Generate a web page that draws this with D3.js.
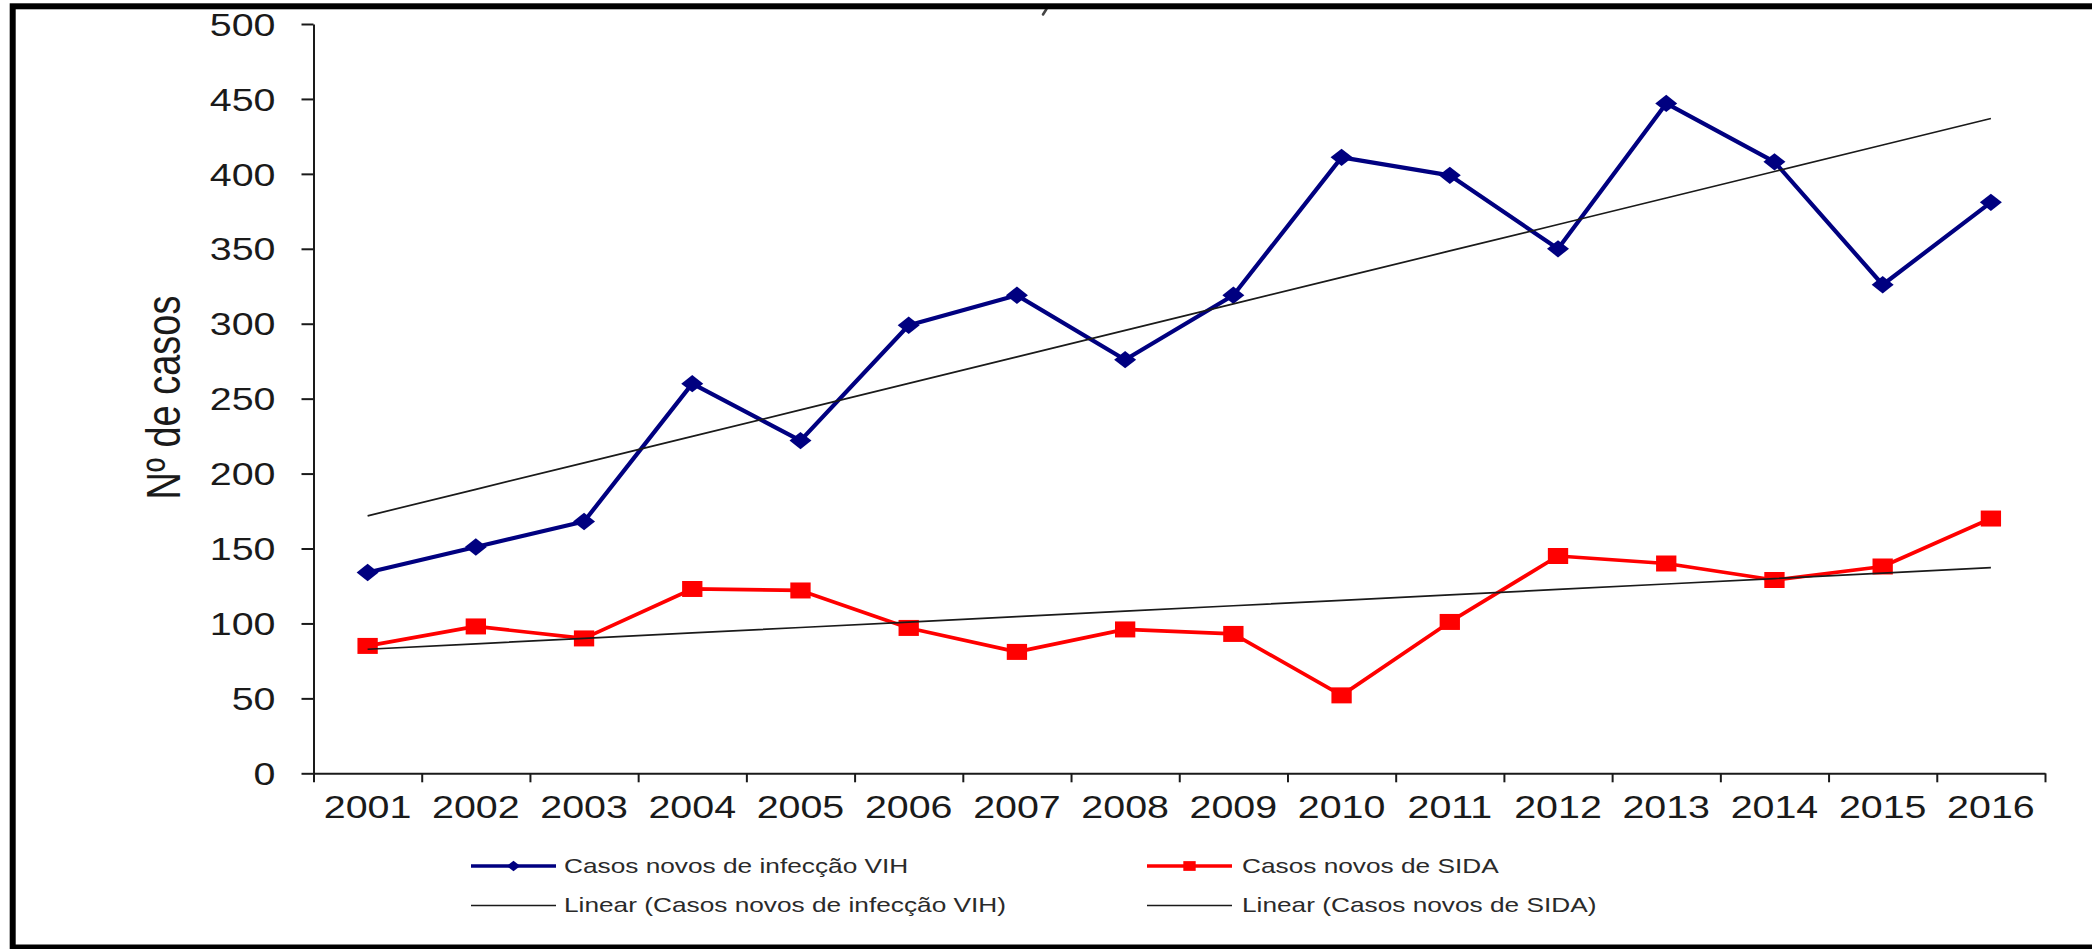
<!DOCTYPE html>
<html>
<head>
<meta charset="utf-8">
<script src="https://cdn.jsdelivr.net/npm/d3@7"></script>
<style>
  html, body { margin: 0; padding: 0; background: #ffffff; }
  svg { display: block; }
  text { font-family: "Liberation Sans", Arial, Helvetica, sans-serif; fill: #1a1a1a; }
</style>
</head>
<body>
<svg id="chart" width="2092" height="949"></svg>
<script>
// Anos
const years = ["2001", "2002", "2003", "2004", "2005", "2006", "2007", "2008",
               "2009", "2010", "2011", "2012", "2013", "2014", "2015", "2016"];

// Casos novos de infecção VIH por ano
const vihCases = [134, 151, 168, 260, 222, 299, 319, 276, 319, 411, 399, 350, 447, 408, 326, 381];

// Casos novos de SIDA por ano
const sidaCases = [85, 98, 90, 123, 122, 97, 81, 96, 93, 52, 101, 145, 140, 129, 138, 170];

// Marcas do eixo vertical
const yTicks = [0, 50, 100, 150, 200, 250, 300, 350, 400, 450, 500];

const seriesNames = ["Casos novos de infecção VIH", "Casos novos de SIDA"];
const trendNames = ["Linear (Casos novos de infecção VIH)", "Linear (Casos novos de SIDA)"];
const yTitle = "Nº de casos";

// ---------------------------------------------------------------------------
const svg = d3.select("#chart");
const SX = 1.27;               // horizontal stretch applied to text and markers
const SX_LEGEND = 1.25;
const plot = { left: 313.5, right: 2045, top: 24, bottom: 773.3 };
const BLUE = "#000080", RED = "#ff0000", INK = "#1a1a1a";

const x = d3.scaleBand().domain(years).range([plot.left, plot.right]).padding(0);
const xc = d => x(d) + x.bandwidth() / 2;
const y = d3.scaleLinear().domain([0, 500]).range([plot.bottom, plot.top]);
const xEdges = d3.scaleLinear().domain([0, years.length]).range([plot.left, plot.right]);

// Least-squares trend line for a series
function linearFit(values) {
  const n = values.length;
  const xs = d3.range(n);
  const mx = d3.mean(xs), my = d3.mean(values);
  const sxy = d3.sum(xs, (xi, i) => (xi - mx) * (values[i] - my));
  const sxx = d3.sum(xs, xi => (xi - mx) * (xi - mx));
  const slope = sxy / sxx;
  const intercept = my - slope * mx;
  return xs.map(xi => intercept + slope * xi);
}

// Small stroke left under the top edge of the frame
svg.append("path")
  .attr("d", "M1046.5,9 L1043,14.5")
  .attr("stroke", "#444").attr("stroke-width", 2.6).attr("stroke-linecap", "round");

// Y axis
const yAxis = svg.append("g")
  .attr("transform", `translate(${plot.left},0)`)
  .call(d3.axisLeft(y).tickValues(yTicks).tickSize(12).tickSizeOuter(0));
yAxis.select(".domain").attr("stroke", INK).attr("stroke-width", 2);
yAxis.selectAll(".tick line").attr("stroke", INK).attr("stroke-width", 2);
yAxis.selectAll(".tick text")
  .attr("x", 0).attr("dy", "0.36em")
  .attr("transform", `translate(-38,0) scale(${SX},1)`)
  .attr("font-size", 31)
  .attr("font-family", null)
  .style("fill", INK);

// X axis: boundary ticks
const xTickAxis = svg.append("g")
  .attr("transform", `translate(0,${plot.bottom})`)
  .call(d3.axisBottom(xEdges).tickValues(d3.range(years.length + 1)).tickSize(9).tickSizeOuter(0).tickFormat(""));
xTickAxis.select(".domain").attr("stroke", INK).attr("stroke-width", 2);
xTickAxis.selectAll(".tick line").attr("stroke", INK).attr("stroke-width", 2);

// X axis: year labels centred in each category
const xLabelAxis = svg.append("g")
  .attr("transform", `translate(0,${plot.bottom})`)
  .call(d3.axisBottom(x).tickSize(0));
xLabelAxis.select(".domain").remove();
xLabelAxis.selectAll(".tick text")
  .attr("y", 0).attr("dy", 0)
  .attr("transform", `translate(0,45) scale(${SX},1)`)
  .attr("font-size", 31)
  .attr("font-family", null)
  .style("fill", INK);

// Y axis title
svg.append("text")
  .attr("transform", `translate(180,397.5) scale(${SX},1) rotate(-90)`)
  .attr("text-anchor", "middle")
  .attr("font-size", 38)
  .style("fill", INK)
  .text(yTitle);

// Series
const line = d3.line().x((d, i) => xc(years[i])).y(d => y(d));
const diamond = d3.symbol().type(d3.symbolSquare).size(150);
const square = d3.symbol().type(d3.symbolSquare).size(256);

svg.append("path").datum(vihCases)
  .attr("d", line).attr("fill", "none")
  .attr("stroke", BLUE).attr("stroke-width", 4.2).attr("stroke-linejoin", "round");
svg.append("g").selectAll("path").data(vihCases).join("path")
  .attr("d", diamond)
  .attr("transform", (d, i) => `translate(${xc(years[i])},${y(d)}) scale(${SX},1) rotate(45)`)
  .attr("fill", BLUE);

svg.append("path").datum(sidaCases)
  .attr("d", line).attr("fill", "none")
  .attr("stroke", RED).attr("stroke-width", 3.7).attr("stroke-linejoin", "round");
svg.append("g").selectAll("path").data(sidaCases).join("path")
  .attr("d", square)
  .attr("transform", (d, i) => `translate(${xc(years[i])},${y(d)}) scale(${SX},1)`)
  .attr("fill", RED);

// Linear trend lines
[vihCases, sidaCases].forEach(values => {
  const fit = linearFit(values);
  svg.append("path").datum(fit)
    .attr("d", line).attr("fill", "none")
    .attr("stroke", INK).attr("stroke-width", 1.7);
});

// Legend
const legendItems = [
  { name: seriesNames[0], color: BLUE, width: 3.6, marker: "diamond", x: 471, y: 866 },
  { name: seriesNames[1], color: RED, width: 3.4, marker: "square", x: 1147, y: 866 },
  { name: trendNames[0], color: INK, width: 1.7, marker: null, x: 471, y: 905.5 },
  { name: trendNames[1], color: INK, width: 1.7, marker: null, x: 1147, y: 905.5 }
];
const legend = svg.append("g");
legendItems.forEach(it => {
  const g = legend.append("g").attr("transform", `translate(${it.x},${it.y})`);
  g.append("line").attr("x1", 0).attr("x2", 85).attr("y1", 0).attr("y2", 0)
    .attr("stroke", it.color).attr("stroke-width", it.width);
  if (it.marker === "diamond") {
    g.append("path").attr("d", d3.symbol().type(d3.symbolSquare).size(56)())
      .attr("transform", `translate(42.5,0) scale(${SX},1) rotate(45)`).attr("fill", it.color);
  } else if (it.marker === "square") {
    g.append("path").attr("d", d3.symbol().type(d3.symbolSquare).size(95)())
      .attr("transform", `translate(42.5,0) scale(${SX},1)`).attr("fill", it.color);
  }
  g.append("text")
    .attr("transform", `translate(${it.x < 1000 ? 93 : 95},6.5) scale(${SX_LEGEND},1)`)
    .attr("font-size", 21)
    .style("fill", "#2a2a2a")
    .text(it.name);
});

// Frame
svg.append("rect")
  .attr("x", 12.7).attr("y", 6.3)
  .attr("width", 2300).attr("height", 941.2)
  .attr("fill", "none").attr("stroke", "#000").attr("stroke-width", 6);
</script>
</body>
</html>
